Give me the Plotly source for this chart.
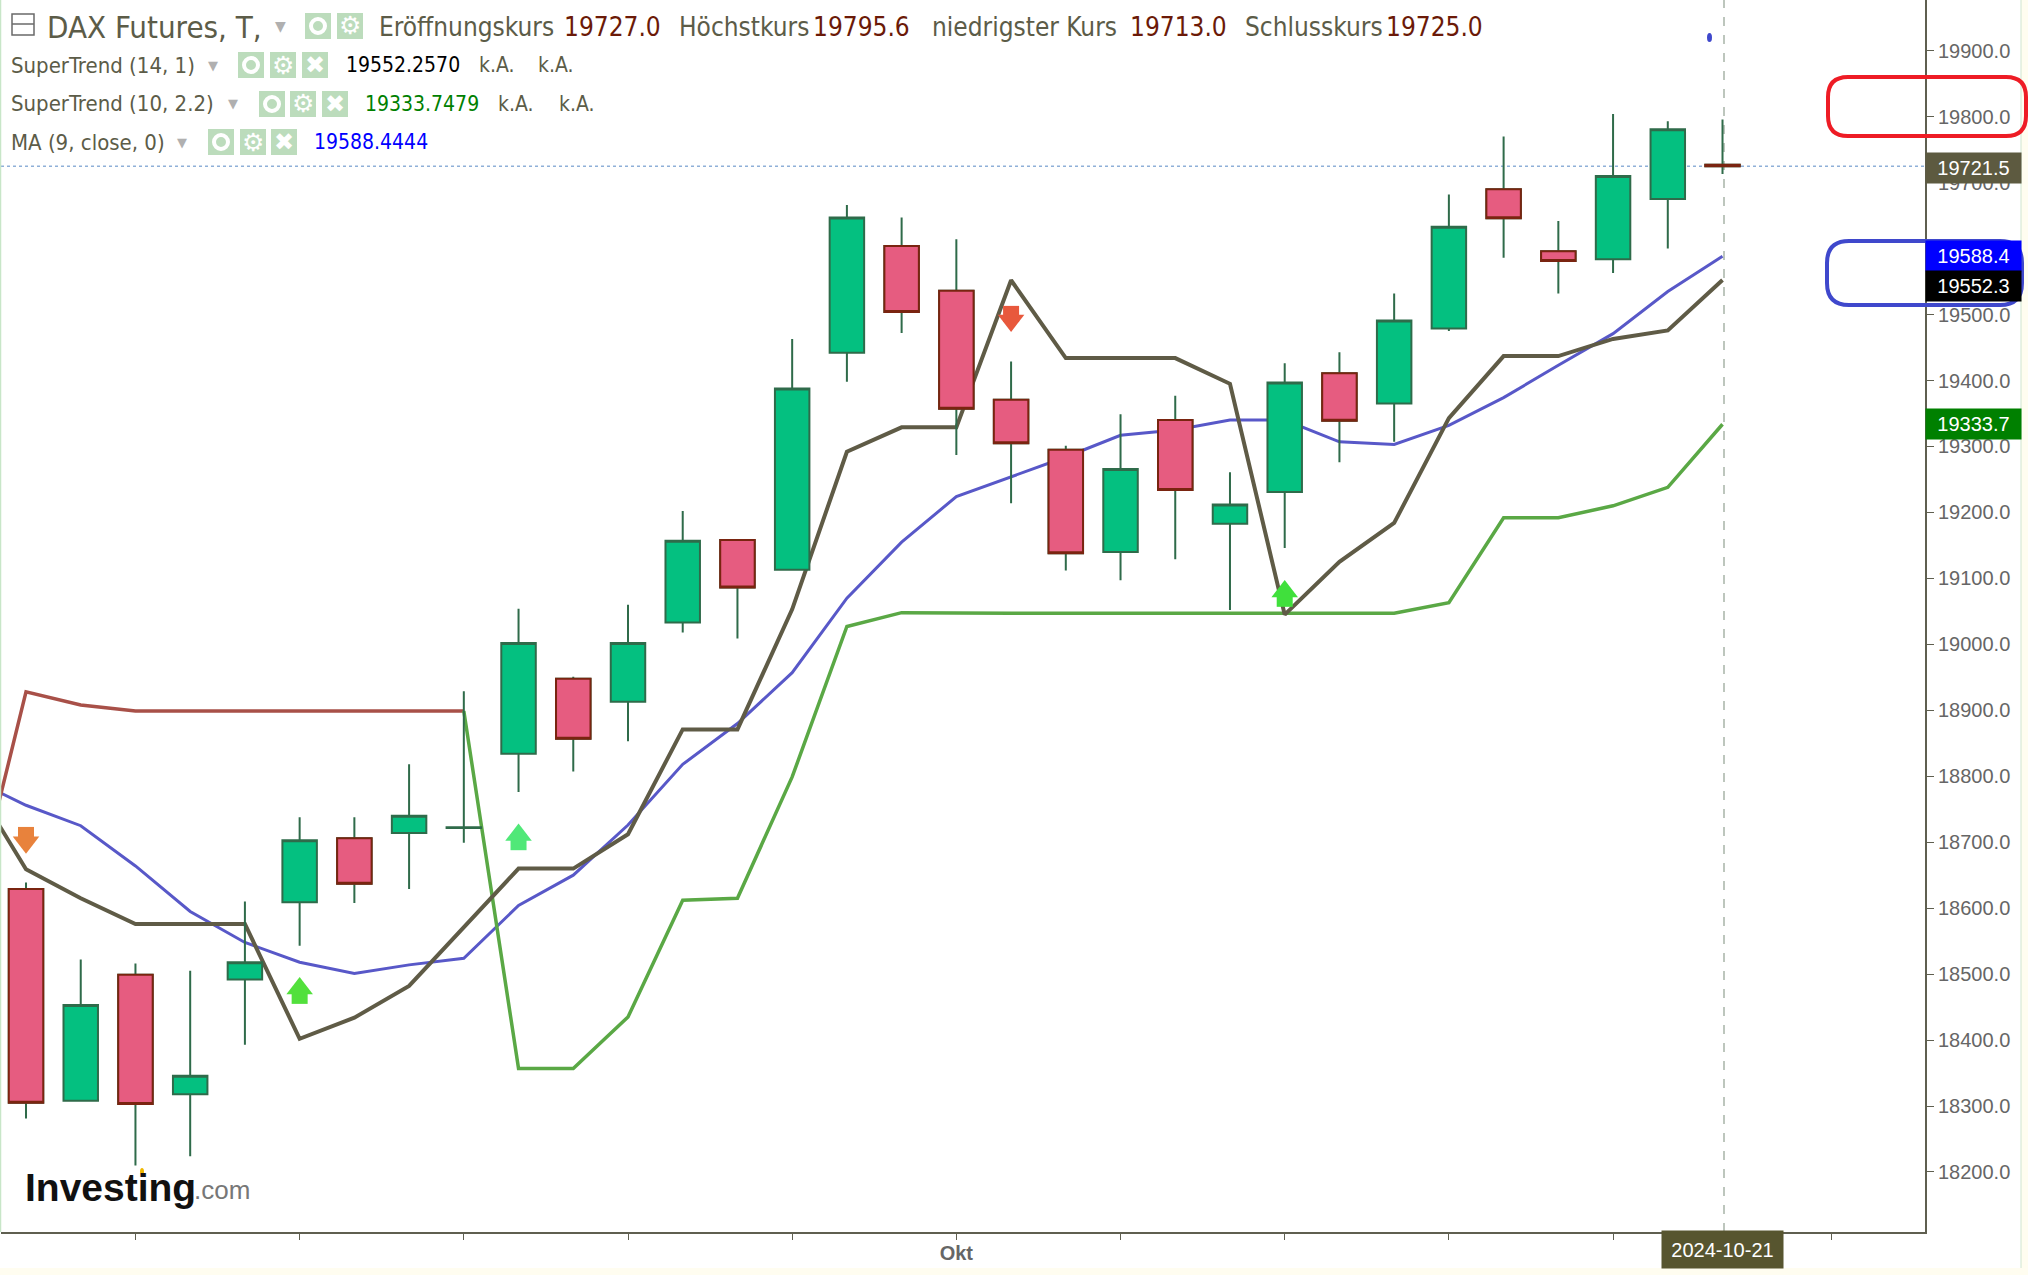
import plotly.graph_objects as go

# trading days shown on the chart, first one only carries the indicators in from the left edge
lead_date = "2024-09-05"
dates = [
    "2024-09-06", "2024-09-09", "2024-09-10", "2024-09-11", "2024-09-12", "2024-09-13",
    "2024-09-16", "2024-09-17", "2024-09-18", "2024-09-19", "2024-09-20", "2024-09-23",
    "2024-09-24", "2024-09-25", "2024-09-26", "2024-09-27", "2024-09-30", "2024-10-01",
    "2024-10-02", "2024-10-03", "2024-10-04", "2024-10-07", "2024-10-08", "2024-10-09",
    "2024-10-10", "2024-10-11", "2024-10-14", "2024-10-15", "2024-10-16", "2024-10-17",
    "2024-10-18", "2024-10-21",
]
future_dates = ["2024-10-22", "2024-10-23", "2024-10-24", "2024-10-25"]

opens = [18629, 18308, 18499, 18318, 18492, 18609, 18706, 18714, 18721.5, 18834, 18948, 18913,
         19033, 19158, 19113, 19442, 19604, 19536, 19371, 19295, 19140, 19340, 19183, 19231,
         19411, 19365, 19479, 19690, 19596, 19584, 19675, 19727]
highs = [18639, 18522, 18516, 18505, 18610, 18738, 18738, 18818, 18929, 19054, 18951, 19060,
         19202, 19159, 19463, 19666, 19647, 19614, 19429, 19301, 19349, 19377, 19261, 19426,
         19443, 19532, 19682, 19770, 19642, 19804, 19793, 19795.6]
lows = [18281, 18308, 18210, 18224, 18393, 18543, 18608, 18629, 18699, 18776, 18807, 18853,
        19018, 19009, 19113, 19398, 19472, 19287, 19214, 19112, 19097, 19129, 19052, 19146,
        19276, 19307, 19475, 19586, 19532, 19563, 19600, 19713]
closes = [18305, 18453, 18303, 18346, 18518, 18703, 18637, 18740, 18722.5, 19002, 18857, 19002,
          19157, 19086, 19388, 19647, 19504, 19357, 19305, 19138, 19266, 19234, 19212, 19397,
          19339, 19491, 19633, 19646, 19581, 19710, 19781, 19725]

supertrend_14 = [18795, 18659, 18615, 18576, 18576, 18576, 18402, 18434, 18482, 18570, 18660,
                 18660, 18712, 18871, 18871, 19053, 19292, 19329, 19329, 19552, 19434, 19434,
                 19434, 19395, 19045, 19125, 19184, 19343, 19437, 19437, 19463, 19476, 19552.3]
supertrend_10_down = [18590, 18928, 18908, 18899, 18899, 18899, 18899, 18899, 18899, 18899]
supertrend_10_up = [18899, 18357, 18357, 18435, 18612, 18615, 18799, 19027, 19048, 19047, 19047,
                    19047, 19047, 19047, 19047, 19047, 19047, 19047, 19063, 19192, 19192, 19210,
                    19238, 19333.7]
ma_9 = [18796, 18756, 18725, 18664, 18595, 18548, 18518, 18501, 18514, 18524, 18604, 18650, 18726,
        18818, 18880, 18957, 19070, 19155, 19224, 19254, 19284, 19317, 19325, 19340, 19340, 19307,
        19303, 19332, 19374, 19423, 19471, 19535, 19588.4]

# signal arrows: head and stem are separate markers
arrow_dates = ["2024-09-06", "2024-09-13", "2024-09-19", "2024-10-02", "2024-10-09"]
arrow_heads = [18700, 18478, 18711, 19491, 19080]
arrow_stems = [18711, 18467, 18700, 19501, 19069]
arrow_symbols = ["triangle-down", "triangle-up", "triangle-up", "triangle-down", "triangle-up"]
arrow_colors = ["#e8823c", "#52e03c", "#50e878", "#e8583c", "#40e03c"]

y_ticks = [18200 + 100 * i for i in range(18)]
x_ticks = ["2024-09-10", "2024-09-13", "2024-09-18", "2024-09-23", "2024-09-26", "2024-10-01",
           "2024-10-04", "2024-10-09", "2024-10-14", "2024-10-17", "2024-10-23"]
x_tick_text = ["", "", "", "", "", "<b>Okt</b>", "", "", "", "", ""]

legend_rows = [
    ("SuperTrend (14, 1)", 65, 213, [238, 270, 302], "19552.2570", 345, "#000000", [478, 537]),
    ("SuperTrend (10, 2.2)", 104, 233, [259, 290, 322], "19333.7479", 364, "#008000", [497, 558]),
    ("MA (9, close, 0)", 142, 182, [208, 240, 271], "19588.4444", 313, "#0000ff", []),
]
ohlc_items = [
    ("Eröffnungskurs", 378, "19727.0", 563),
    ("Höchstkurs", 678, "19795.6", 812),
    ("niedrigster Kurs", 931, "19713.0", 1129),
    ("Schlusskurs", 1244, "19725.0", 1385),
]
price_flags = [
    ("19721.5", 19721.5, "#5d5a40", 0),
    ("19588.4", 19588.4, "#0000ff", 0),
    ("19552.3", 19552.3, "#000000", -6),
    ("19333.7", 19333.7, "#008000", 0),
]

WIDTH, HEIGHT = 2028, 1275
LEFT, RIGHT, BOTTOM = 1, 1925, 1232
TEXT_GREY = "#5c5c48"
VALUE_RED = "#6b1a08"
COND = "DejaVu Sans Condensed"
SANS = "Liberation Sans"
y_range = [18109, 19976.9]


def px(x):
    return (x - LEFT) / (RIGHT - LEFT)


def py(y):
    return 1 - y / BOTTOM


def rounded_path(x0, y0, x1, y1, r):
    pts = [
        f"M{px(x0 + r)},{py(y0)}", f"L{px(x1 - r)},{py(y0)}",
        f"Q{px(x1)},{py(y0)} {px(x1)},{py(y0 + r)}", f"L{px(x1)},{py(y1 - r)}",
        f"Q{px(x1)},{py(y1)} {px(x1 - r)},{py(y1)}", f"L{px(x0 + r)},{py(y1)}",
        f"Q{px(x0)},{py(y1)} {px(x0)},{py(y1 - r)}", f"L{px(x0)},{py(y0 + r)}",
        f"Q{px(x0)},{py(y0)} {px(x0 + r)},{py(y0)}Z",
    ]
    return " ".join(pts)


fig = go.Figure()
all_dates = [lead_date] + dates

fig.add_trace(go.Scatter(x=all_dates, y=ma_9, mode="lines", line=dict(color="#5858c8", width=3)))
fig.add_trace(go.Scatter(x=all_dates[:10], y=supertrend_10_down, mode="lines",
                         line=dict(color="#a85048", width=3.5)))
fig.add_trace(go.Scatter(x=all_dates[9:], y=supertrend_10_up, mode="lines",
                         line=dict(color="#5aa845", width=3.5)))
fig.add_trace(go.Scatter(x=all_dates, y=supertrend_14, mode="lines",
                         line=dict(color="#5f5b46", width=4)))

# candles sit on an overlaying axis so that they cover the indicator lines
wick = "#2f6b4a"
fig.add_trace(go.Candlestick(
    x=dates, open=opens, high=highs, low=lows, close=closes, yaxis="y2", whiskerwidth=0,
    increasing=dict(line=dict(color=wick, width=2), fillcolor="#04c080"),
    decreasing=dict(line=dict(color=wick, width=2), fillcolor="#e65c80"),
))
red = [i for i in range(len(dates)) if closes[i] < opens[i]]
fig.add_trace(go.Candlestick(
    x=[dates[i] for i in red], open=[opens[i] for i in red], close=[closes[i] for i in red],
    high=[opens[i] for i in red], low=[closes[i] for i in red], yaxis="y2", whiskerwidth=0,
    increasing=dict(line=dict(color="#7a2410", width=2), fillcolor="#e65c80"),
    decreasing=dict(line=dict(color="#7a2410", width=2), fillcolor="#e65c80"),
))
fig.add_trace(go.Scatter(x=arrow_dates, y=arrow_stems, mode="markers", yaxis="y2",
                         marker=dict(symbol="square", size=16, color=arrow_colors, line_width=0)))
fig.add_trace(go.Scatter(x=arrow_dates, y=arrow_heads, mode="markers", yaxis="y2",
                         marker=dict(symbol=arrow_symbols, size=23, color=arrow_colors, line_width=0)))

shapes = [
    # page edges
    dict(type="rect", xref="paper", yref="paper", x0=px(2021), x1=px(2028), y0=py(0), y1=py(1275),
         fillcolor="#fffdf0", line_width=0, layer="below"),
    dict(type="rect", xref="paper", yref="paper", x0=px(0), x1=px(2028), y0=py(1268), y1=py(1275),
         fillcolor="#fffdf0", line_width=0, layer="below"),
    dict(type="line", xref="paper", yref="paper", x0=px(2021), x1=px(2021), y0=py(0), y1=py(1268),
         line=dict(color="#cfe5cf", width=1)),
    dict(type="line", xref="paper", yref="paper", x0=px(0.5), x1=px(0.5), y0=py(0), y1=py(1232),
         line=dict(color="#c8e6c8", width=1.5)),
    # crosshair
    dict(type="line", xref="paper", yref="paper", x0=px(1724), x1=px(1724), y0=0, y1=1,
         line=dict(color="#a8b4a8", width=1.5, dash="dash"), layer="below"),
    dict(type="line", xref="paper", yref="y", x0=0, x1=1, y0=19725, y1=19725,
         line=dict(color="#8fb0d8", width=1.5, dash="dot"), layer="below"),
    # small blue dot near the top
    dict(type="circle", xref="paper", yref="paper", x0=px(1707), x1=px(1712), y0=py(33), y1=py(42),
         fillcolor="#3f48cc", line_width=0),
    # hand-drawn highlight boxes
    dict(type="path", xref="paper", yref="paper", path=rounded_path(1828, 77, 2026, 136, 20),
         line=dict(color="#ee1c25", width=4)),
    dict(type="path", xref="paper", yref="paper", path=rounded_path(1827, 241, 2022, 305, 22),
         line=dict(color="#3f48cc", width=4)),
    # collapse box in the header
    dict(type="rect", xref="paper", yref="paper", x0=px(12), x1=px(34), y0=py(14), y1=py(35),
         line=dict(color="#6a6a6a", width=1.5)),
    dict(type="line", xref="paper", yref="paper", x0=px(12), x1=px(34), y0=py(24), y1=py(24),
         line=dict(color="#6a6a6a", width=1.5)),
    # gold dot of the logo
    dict(type="circle", xref="paper", yref="paper", x0=px(140), x1=px(144), y0=py(1168), y1=py(1175),
         fillcolor="#f0b800", line_width=0),
]

annotations = []


def add_text(text, x, y, size, color, family=COND, anchor="left"):
    annotations.append(dict(text=text, xref="paper", yref="paper", x=px(x), y=py(y), xanchor=anchor,
                            yanchor="middle", showarrow=False, borderpad=0,
                            font=dict(size=size, color=color, family=family)))


def add_icon(x, y, glyph):
    shapes.append(dict(type="rect", xref="paper", yref="paper", x0=px(x), x1=px(x + 26),
                       y0=py(y - 13), y1=py(y + 13), fillcolor="#bcdcbc", line_width=0))
    if glyph == "eye":
        shapes.append(dict(type="circle", xref="paper", yref="paper", x0=px(x + 6), x1=px(x + 20),
                           y0=py(y - 7), y1=py(y + 7), line=dict(color="#ffffff", width=4)))
    elif glyph == "gear":
        add_text("⚙", x + 13, y, 25, "#ffffff", "DejaVu Sans", "center")
    else:
        add_text("✖", x + 13, y, 24, "#ffffff", "DejaVu Sans", "center")


add_text("DAX Futures, T,", 46, 27, 31, TEXT_GREY)
add_text("▼", 280, 26, 14, "#b0b0b0", "DejaVu Sans", "center")
add_icon(305, 26, "eye")
add_icon(337, 26, "gear")
for label, x_label, value, x_value in ohlc_items:
    add_text(label, x_label, 27, 26, TEXT_GREY)
    add_text(value, x_value, 27, 26, VALUE_RED)

for label, y_row, x_arrow, x_icons, value, x_value, color, x_na in legend_rows:
    add_text(label, 10, y_row, 22, TEXT_GREY)
    add_text("▼", x_arrow, y_row, 13, "#b0b0b0", "DejaVu Sans", "center")
    add_icon(x_icons[0], y_row, "eye")
    add_icon(x_icons[1], y_row, "gear")
    add_icon(x_icons[2], y_row, "close")
    add_text(value, x_value, y_row, 21, color)
    for x in x_na:
        add_text("k.A.", x, y_row, 21, TEXT_GREY)

for label, value, color, shift in price_flags:
    annotations.append(dict(text=label, xref="paper", yref="y", x=px(1925), y=value, yshift=shift,
                            xanchor="left", yanchor="middle", showarrow=False, width=95, height=30,
                            align="center", bgcolor=color, borderpad=0,
                            font=dict(size=20, color="#ffffff", family=SANS)))

annotations.append(dict(text="2024-10-21", xref="x", yref="paper", x="2024-10-21", y=0, yshift=2,
                        xanchor="center", yanchor="top", showarrow=False, width=121, height=37,
                        align="center", bgcolor="#57552f", borderpad=0,
                        font=dict(size=20, color="#ffffff", family=SANS)))

add_text("<b>Investing</b>", 24, 1187, 39, "#111111", SANS)
add_text(".com", 193, 1190, 26, "#777777", SANS)

fig.update_layout(
    width=WIDTH,
    height=HEIGHT,
    margin=dict(l=LEFT, r=WIDTH - RIGHT, t=0, b=HEIGHT - BOTTOM),
    paper_bgcolor="#ffffff",
    plot_bgcolor="#ffffff",
    showlegend=False,
    boxgap=0.37,
    boxgroupgap=0,
    shapes=shapes,
    annotations=annotations,
    xaxis=dict(
        type="category",
        categoryorder="array",
        categoryarray=all_dates + future_dates,
        range=[0.543, 35.70],
        rangeslider=dict(visible=False),
        tickmode="array",
        tickvals=x_ticks,
        ticktext=x_tick_text,
        ticks="outside",
        ticklen=6,
        tickcolor="#5f5f50",
        tickfont=dict(size=20, color="#666666", family=SANS),
        ticklabelstandoff=-4,
        showgrid=False,
        zeroline=False,
        showline=True,
        linecolor="#5f5f50",
        linewidth=2,
    ),
    yaxis=dict(
        side="right",
        range=y_range,
        tickmode="array",
        tickvals=y_ticks,
        tickformat=".1f",
        ticks="outside",
        ticklen=7,
        tickcolor="#5f5f50",
        tickfont=dict(size=20, color="#666666", family=SANS),
        showgrid=False,
        zeroline=False,
        showline=True,
        linecolor="#5f5f50",
        linewidth=2,
    ),
    yaxis2=dict(overlaying="y", side="right", range=y_range, visible=False),
)

fig.write_html("out.html", config=dict(displayModeBar=False),
               post_script="document.body.style.margin='0';")
